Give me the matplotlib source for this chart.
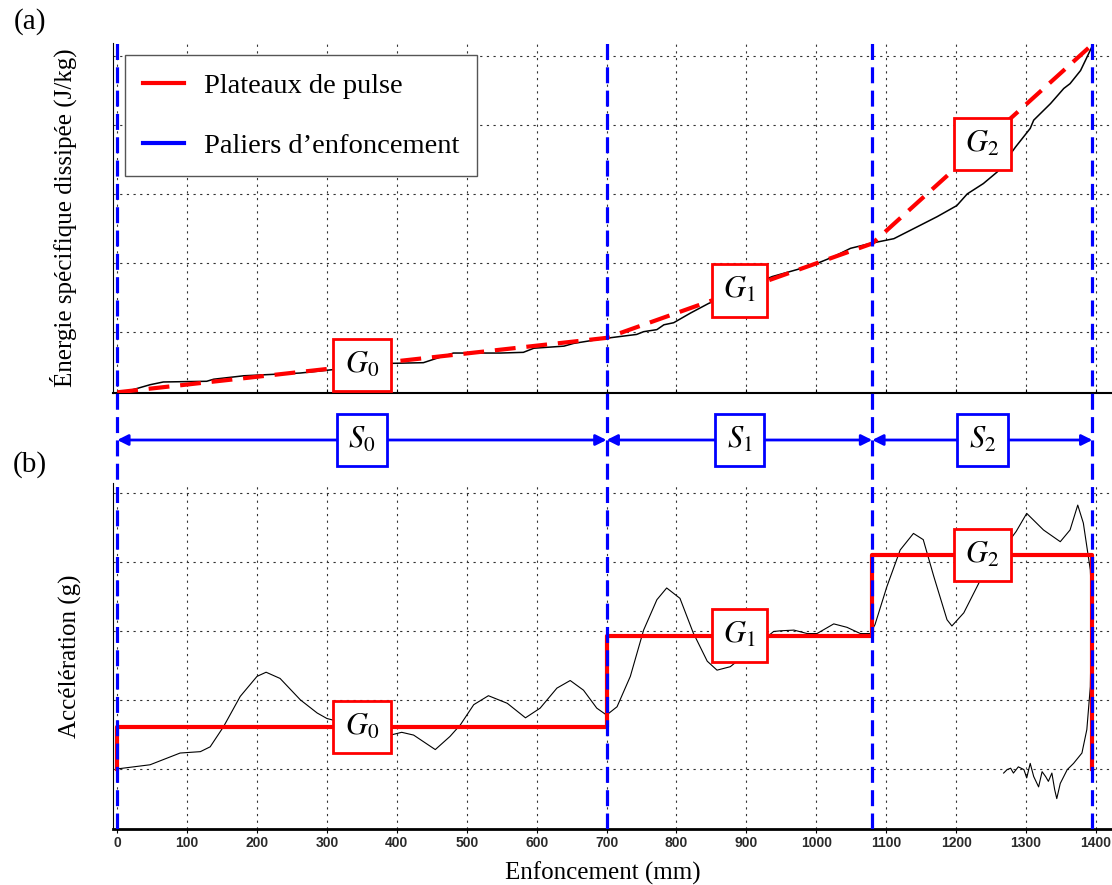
import numpy as np
import matplotlib.pyplot as plt
from matplotlib.lines import Line2D

plt.rcParams['font.family'] = ['Liberation Serif', 'DejaVu Serif']
plt.rcParams['mathtext.fontset'] = 'stix'

# limites des paliers d'enfoncement (mm)
paliers = [0, 700, 1080, 1395]

# (a) energie specifique dissipee (unites arbitraires)
x_energie = [0, 23, 47, 66, 128, 138, 181, 262, 300, 391, 438, 453, 481, 548,
             581, 596, 639, 653, 696, 743, 753, 772, 782, 796, 820, 846, 937,
             972, 1001, 1025, 1049, 1077, 1111, 1144, 1173, 1201, 1216, 1239,
             1259, 1285, 1306, 1311, 1335, 1354, 1363, 1378, 1387, 1394]
energie = [0, 0.5, 1.2, 1.6, 1.7, 2.0, 2.5, 2.9, 3.3, 4.3, 4.4, 4.9, 5.8, 5.8,
           5.9, 6.5, 6.8, 7.2, 7.9, 8.5, 8.9, 9.2, 9.9, 10.2, 11.6, 13.0, 16.9,
           17.9, 18.8, 19.8, 21.0, 21.7, 22.4, 24.1, 25.6, 27.2, 28.9, 30.4,
           32.1, 35.7, 38.4, 39.6, 42.0, 44.2, 44.9, 46.8, 48.7, 50.2]
# energie des plateaux de pulse aux limites des paliers
energie_plateaux = [0.1, 8.0, 21.7, 50.6]

# (b) acceleration (g), trace
x_acc = [0, 47, 90, 119, 133, 152, 176, 200, 213, 233, 262, 286, 300, 391, 407,
         424, 455, 476, 491, 510, 531, 558, 584, 605, 629, 648, 667, 686, 700,
         715, 734, 753, 772, 786, 805, 824, 844, 858, 877, 939, 949, 968, 987,
         1001, 1025, 1044, 1063, 1077, 1084, 1101, 1120, 1139, 1153, 1168, 1187,
         1194, 1211, 1235, 1286, 1301, 1325, 1349, 1363, 1374, 1382, 1392, 1394,
         1392, 1387, 1380, 1368, 1359, 1349, 1344, 1341, 1337, 1332, 1328, 1323,
         1318, 1311, 1306, 1301, 1297, 1289, 1282, 1278, 1273, 1268]
acc = [0, 0.6, 2.3, 2.5, 3.2, 6.1, 10.5, 13.4, 14.0, 13.1, 10.0, 8.1, 7.3, 4.9, 5.3,
       4.9, 2.8, 4.7, 6.4, 9.3, 10.6, 9.5, 7.4, 8.8, 11.7, 12.8, 11.4, 8.8, 7.8,
       9.0, 13.4, 20.1, 24.5, 26.2, 24.7, 19.7, 15.6, 14.3, 14.8, 19.9, 20.0, 20.1, 19.6,
       19.6, 21.0, 20.5, 19.6, 19.6, 20.9, 26.4, 31.7, 34.1, 33.2, 27.9, 21.6,
       20.7, 22.6, 27.4, 34.4, 37.0, 34.6, 32.9, 34.6, 38.2, 35.6, 28.8, 24.0,
       11.9, 5.7, 2.3, 0.8, -0.1, -2.1, -4.3, -3.0, -0.6, -1.8, -1.1, -0.4,
       -2.6, -1.1, 0.8, -1.3, -0.1, 0.3, -0.6, 0.1, -0.1, -0.6]
# niveaux des plateaux G0, G1, G2
g_plateaux = [6.1, 19.3, 31.0]

x_ticks = np.arange(0, 1401, 100)
labels_g = ['$G_0$', '$G_1$', '$G_2$']
labels_s = ['$S_0$', '$S_1$', '$S_2$']

W, H = 1112, 885
fig = plt.figure(figsize=(W / 100, H / 100), dpi=100)


def rect(left, top, right, bottom):
    return [left / W, 1 - bottom / H, (right - left) / W, (bottom - top) / H]


ax1 = fig.add_axes(rect(113, 43, 1112, 393))
ax2 = fig.add_axes(rect(113, 483, 1112, 829))
over = fig.add_axes(rect(113, 43, 1112, 829), zorder=5)
over.patch.set_alpha(0)
over.axis('off')

xlim = (-6, 1423)
grid_kw = dict(color='#333333', linestyle=(0, (2, 4)), linewidth=0.8)

for ax in (ax1, ax2):
    ax.set_xlim(*xlim)
    ax.set_xticks(x_ticks)
    ax.spines['top'].set_visible(False)
    ax.spines['right'].set_visible(False)
    ax.tick_params(axis='y', length=0, labelleft=False)
    ax.grid(True, **grid_kw)
    ax.set_axisbelow(True)

# ---- (a) energie ----
ax1.set_ylim(0, 50.8)
ax1.set_yticks([8.85, 18.85, 28.95, 38.95, 48.95])
ax1.tick_params(axis='x', length=3, direction='in', labelbottom=False)
ax1.spines['bottom'].set_linewidth(1.5)
ax1.plot(x_energie, energie, color='black', lw=1.1, zorder=3)
ax1.plot(paliers, energie_plateaux, color='#ff0000', lw=3,
         linestyle=(0, (5, 2.6)), zorder=4)
ax1.set_ylabel('Énergie spécifique dissipée (J/kg)', fontsize=18)
ax1.yaxis.set_label_coords(-0.036, 0.5)

box_g = dict(boxstyle='square,pad=0.38', fc='white', ec='#ff0000', lw=2)
for i in range(3):
    xm = (paliers[i] + paliers[i + 1]) / 2
    ym = (energie_plateaux[i] + energie_plateaux[i + 1]) / 2
    ax1.text(xm, ym, labels_g[i], fontsize=22, ha='center', va='center',
             bbox=box_g, zorder=6)

handles = [Line2D([], [], color='#ff0000', lw=3),
           Line2D([], [], color='#0000ff', lw=3)]
ax1.legend(handles, ['Plateaux de pulse', 'Paliers d\u2019enfoncement'],
           loc='upper left', bbox_to_anchor=(125 / W, 1 - 55 / H),
           bbox_transform=fig.transFigure, borderaxespad=0,
           fontsize=20.5, fancybox=False, edgecolor='#555555', framealpha=1,
           handlelength=1.45, handletextpad=0.72, labelspacing=1.2,
           borderpad=0.62)

# ---- (b) acceleration ----
ax2.set_ylim(-8.7, 41.4)
ax2.set_yticks([0, 10, 20, 30, 40])
ax2.spines['bottom'].set_linewidth(2)
ax2.plot(x_acc, acc, color='black', lw=0.8, zorder=3)
step_x = [paliers[0]]
step_y = [0]
for i in range(3):
    step_x += [paliers[i], paliers[i + 1]]
    step_y += [g_plateaux[i], g_plateaux[i]]
step_x.append(paliers[-1])
step_y.append(0)
ax2.plot(step_x, step_y, color='#ff0000', lw=3, zorder=4)
for i in range(3):
    xm = (paliers[i] + paliers[i + 1]) / 2
    ax2.text(xm, g_plateaux[i], labels_g[i], fontsize=22, ha='center',
             va='center', bbox=box_g, zorder=6)

ax2.tick_params(axis='x', length=3, pad=2, labelsize=10, labelcolor='#2a2a2a')
for lab in ax2.get_xticklabels():
    lab.set_fontfamily('Liberation Sans')
    lab.set_fontweight('bold')
ax2.set_xlabel('Enfoncement (mm)', fontsize=18)
ax2.xaxis.set_label_coords(0.49, -0.094)
ax2.set_ylabel('Accélération (g)', fontsize=18)
ax2.yaxis.set_label_coords(-0.031, 0.5)

# ---- paliers d'enfoncement (traits bleus) ----
over.set_xlim(*xlim)
over.set_ylim(829, 43)
over.vlines(paliers, 829, 43, color='#0000ff', lw=2.3,
            linestyle=(0, (5, 2.3)))
box_s = dict(boxstyle='square,pad=0.38', fc='white', ec='#0000ff', lw=2)
for i in range(3):
    over.annotate('', xy=(paliers[i], 440), xytext=(paliers[i + 1], 440),
                  arrowprops=dict(arrowstyle='<|-|>', color='#0000ff', lw=2,
                                  mutation_scale=16, shrinkA=0, shrinkB=0))
    xm = (paliers[i] + paliers[i + 1]) / 2
    over.text(xm, 440, labels_s[i], fontsize=22, ha='center', va='center',
              bbox=box_s, zorder=6)

fig.text(30 / W, 1 - 22 / H, '(a)', fontsize=21, ha='center', va='center')
fig.text(30 / W, 1 - 465 / H, '(b)', fontsize=21, ha='center', va='center')

fig.savefig('out.png', dpi=100)
